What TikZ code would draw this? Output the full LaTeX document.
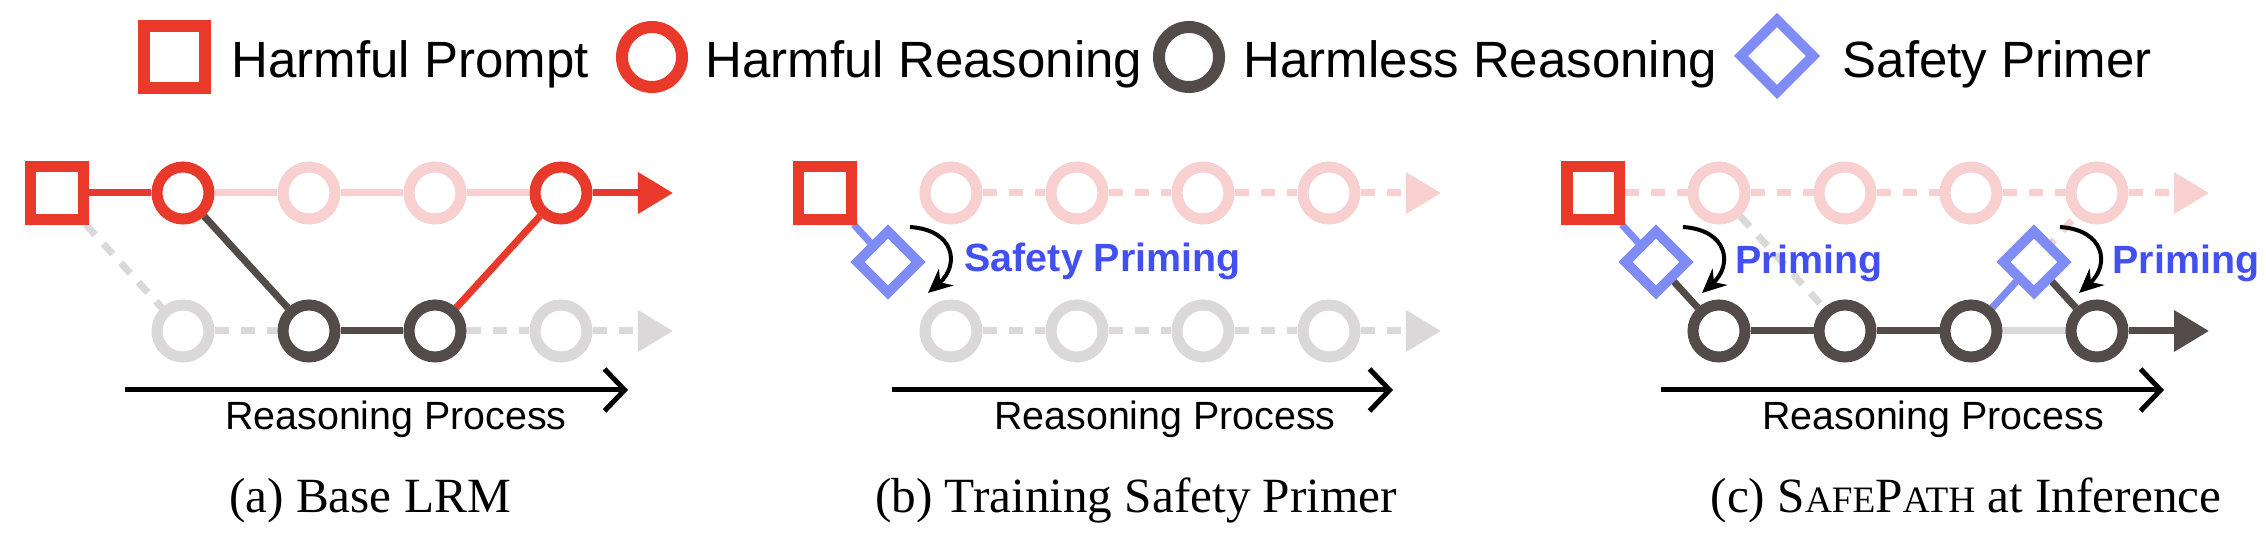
\documentclass[tikz,border=0pt]{standalone}
\usepackage{fontspec}
\setmainfont{Liberation Serif}
\setsansfont{Liberation Sans}
\usepackage{tikz}
\usetikzlibrary{shapes.geometric,arrows.meta}
\pgfdeclarelayer{bg}
\pgfsetlayers{bg,main}
\definecolor{harmred}{RGB}{233,57,43}
\definecolor{harmdark}{RGB}{82,75,74}
\definecolor{fadepink}{RGB}{248,208,208}
\definecolor{fadegray}{RGB}{218,216,217}
\definecolor{primblue}{RGB}{127,140,245}
\definecolor{textblue}{RGB}{66,80,240}
\newcommand{\fakesc}[1]{{\fontsize{10.6pt}{12pt}\selectfont #1}}
\tikzset{
  prompt/.style={rectangle, draw=harmred, line width=0.11cm, minimum size=0.52cm, inner sep=0pt, fill=white},
  harmful/.style={circle, draw=harmred, line width=0.11cm, minimum size=0.52cm, inner sep=0pt, fill=white},
  harmless/.style={harmful, draw=harmdark},
  fadedred/.style={harmful, draw=fadepink},
  fadedgray/.style={harmful, draw=fadegray},
  primer/.style={diamond, draw=primblue, line width=0.10cm, minimum size=0.65cm, inner sep=0pt, fill=white},
  ln/.style={line width=0.07cm},
  dsh/.style={ln, dash pattern=on 0.14cm off 0.12cm},
  headtip/.style={-{Triangle[length=0.35cm,width=0.40cm]}},
  bendtip/.style={line width=0.04cm, -{Stealth[length=0.24cm,width=0.22cm]}},
  axis/.style={line width=0.05cm, -{Straight Barb[length=0.2cm,width=0.42cm]}},
  legtext/.style={anchor=base west, inner sep=0pt, font=\sffamily\fontsize{14.5pt}{17pt}\selectfont},
  steptext/.style={anchor=base, inner sep=0pt, font=\sffamily\fontsize{11.2pt}{13pt}\selectfont},
  primetext/.style={anchor=base west, inner sep=0pt, text=textblue, font=\sffamily\bfseries\fontsize{11.2pt}{13pt}\selectfont},
  captext/.style={anchor=base, inner sep=0pt, font=\fontsize{14pt}{16pt}\selectfont},
}
\begin{document}
\begin{tikzpicture}[x=0.01cm, y=-0.01cm]
        \useasboundingbox (0,0) rectangle (2266,534);
        % legend
        \node (l0) [prompt, minimum size=0.61cm, line width=0.12cm] at (174.5,57) {};
        \node (l0t) [legtext] at (231,78) {Harmful Prompt};
        \node (l1) [harmful, minimum size=0.60cm, line width=0.12cm] at (652,57) {};
        \node (l1t) [legtext] at (705,78) {Harmful Reasoning};
        \node (l2) [harmless, minimum size=0.60cm, line width=0.12cm] at (1189,57) {};
        \node (l2t) [legtext] at (1243,78) {Harmless Reasoning};
        \node (l3) [primer, minimum size=0.76cm] at (1777,56) {};
        \node (l3t) [legtext] at (1842,78) {Safety Primer};
        % (a) base LRM
        \node (a0) [prompt] at (57,193) {};
        \node (a1) [harmful] at (183,193) {};
        \node (a2) [fadedred] at (309,193) {};
        \node (a3) [fadedred] at (435,193) {};
        \node (a4) [harmful] at (561,193) {};
        \node (a5) [fadedgray] at (183,331) {};
        \node (a6) [harmless] at (309,331) {};
        \node (a7) [harmless] at (435,331) {};
        \node (a8) [fadedgray] at (561,331) {};
        \coordinate (ae1) at (673,193);
        \coordinate (ae2) at (673,331);
        \coordinate (ax0) at (125,390);
        \coordinate (ax1) at (628,390);
        \draw (ax0) edge [axis] (ax1);
        \node (at) [steptext] at (396,430) {Reasoning Process};
        \node (ac) [captext] at (370,513) {(a) Base LRM};
        % (b) training safety primer
        \node (b0) [prompt] at (825,193) {};
        \node (bp) [primer] at (888,262) {};
        \node (b1) [fadedred] at (951,193) {};
        \node (b2) [fadedred] at (1077,193) {};
        \node (b3) [fadedred] at (1203,193) {};
        \node (b4) [fadedred] at (1329,193) {};
        \node (b5) [fadedgray] at (951,331) {};
        \node (b6) [fadedgray] at (1077,331) {};
        \node (b7) [fadedgray] at (1203,331) {};
        \node (b8) [fadedgray] at (1329,331) {};
        \coordinate (be1) at (1441,193);
        \coordinate (be2) at (1441,331);
        \coordinate (bs) at (910,227);
        \coordinate (bt) at (928,293);
        \draw [bendtip] (bs) .. controls (955,230) and (960,265) .. (bt);
        \node (bl) [primetext] at (964,272) {Safety Priming};
        \coordinate (bx0) at (892,390);
        \coordinate (bx1) at (1393,390);
        \draw (bx0) edge [axis] (bx1);
        \node (bt) [steptext] at (1165,430) {Reasoning Process};
        \node (bc) [captext] at (1136,513) {(b) Training Safety Primer};
        % (c) safepath at inference
        \node (c0) [prompt] at (1593,193) {};
        \node (c1) [fadedred] at (1719,193) {};
        \node (c2) [fadedred] at (1845,193) {};
        \node (c3) [fadedred] at (1971,193) {};
        \node (c4) [fadedred] at (2097,193) {};
        \node (c5) [harmless] at (1719,331) {};
        \node (c6) [harmless] at (1845,331) {};
        \node (c7) [harmless] at (1971,331) {};
        \node (c8) [harmless] at (2097,331) {};
        \node (cp1) [primer] at (1656,262) {};
        \node (cp2) [primer] at (2034,262) {};
        \coordinate (ce1) at (2209,193);
        \coordinate (ce2) at (2209,331);
        \coordinate (cs1) at (1683,227);
        \coordinate (ct1) at (1702,293);
        \coordinate (cs2) at (2060,227);
        \coordinate (ct2) at (2079,293);
        \draw [bendtip] (cs1) .. controls (1728,230) and (1733,265) .. (ct1);
        \draw [bendtip] (cs2) .. controls (2105,230) and (2110,265) .. (ct2);
        \node (cl1) [primetext] at (1735,274) {Priming};
        \node (cl2) [primetext] at (2112,274) {Priming};
        \coordinate (cx0) at (1661,390);
        \coordinate (cx1) at (2164,390);
        \draw (cx0) edge [axis] (cx1);
        \node (ct) [steptext] at (1933,430) {Reasoning Process};
        \node (cc) [captext] at (1966,513) {(c) S\fakesc{AFE}P\fakesc{ATH} at Inference};
        \begin{pgfonlayer}{bg}
                \draw (a0) edge [ln, harmred] (a1);
                \draw (a1) edge [ln, fadepink] (a2);
                \draw (a2) edge [ln, fadepink] (a3);
                \draw (a3) edge [ln, fadepink] (a4);
                \draw (a4) edge [ln, harmred, headtip] (ae1);
                \draw (a0) edge [dsh, fadegray] (a5);
                \draw (a5) edge [dsh, fadegray] (a6);
                \draw (a1) edge [ln, harmdark] (a6);
                \draw (a6) edge [ln, harmdark] (a7);
                \draw (a7) edge [ln, harmred] (a4);
                \draw (a7) edge [dsh, fadegray] (a8);
                \draw (a8) edge [dsh, fadegray, headtip] (ae2);
                \draw (b0) edge [ln, primblue] (bp);
                \draw (b1) edge [dsh, fadepink] (b2);
                \draw (b2) edge [dsh, fadepink] (b3);
                \draw (b3) edge [dsh, fadepink] (b4);
                \draw (b4) edge [dsh, fadepink, headtip] (be1);
                \draw (b5) edge [dsh, fadegray] (b6);
                \draw (b6) edge [dsh, fadegray] (b7);
                \draw (b7) edge [dsh, fadegray] (b8);
                \draw (b8) edge [dsh, fadegray, headtip] (be2);
                \draw (c0) edge [dsh, fadepink] (c1);
                \draw (c1) edge [dsh, fadepink] (c2);
                \draw (c2) edge [dsh, fadepink] (c3);
                \draw (c3) edge [dsh, fadepink] (c4);
                \draw (c4) edge [dsh, fadepink, headtip] (ce1);
                \draw (c7) edge [dsh, fadepink] (c4);
                \draw (c1) edge [dsh, fadegray] (c6);
                \draw (c7) edge [ln, fadegray] (c8);
                \draw (c0) edge [ln, primblue] (cp1);
                \draw (cp1) edge [ln, harmdark] (c5);
                \draw (c5) edge [ln, harmdark] (c6);
                \draw (c6) edge [ln, harmdark] (c7);
                \draw (c7) edge [ln, primblue] (cp2);
                \draw (cp2) edge [ln, harmdark] (c8);
                \draw (c8) edge [ln, harmdark, headtip] (ce2);
        \end{pgfonlayer}
\end{tikzpicture}
\end{document}
